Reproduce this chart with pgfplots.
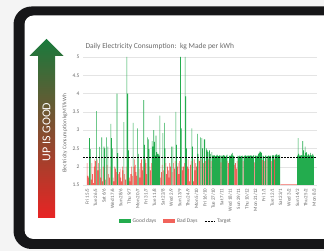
\documentclass[border=0pt]{standalone}
\usepackage{pgfplots}
\pgfplotsset{compat=1.18}
\usepackage{pgfplotstable}
\usepackage{fontspec}
\setmainfont{Carlito}
\definecolor{bgcol}{RGB}{244,244,244}
\definecolor{framecol}{RGB}{22,22,24}
\definecolor{goodgreen}{RGB}{35,172,78}
\definecolor{badred}{RGB}{238,60,50}
\definecolor{textgrey}{RGB}{105,105,105}
\definecolor{gridgrey}{RGB}{228,228,228}
\definecolor{arrowtop}{RGB}{25,122,60}
\definecolor{arrowmid}{RGB}{165,60,40}
\definecolor{arrowbot}{RGB}{232,36,36}

\pgfplotstableread[row sep=\\]{
d v\\
0 2.1\\ 1 1.75\\ 2 1.7\\ 3 2.78\\ 4 2.48\\ 5 1.65\\ 6 2.1\\ 7 1.8\\ 8 1.55\\ 9 2.0\\
10 2.2\\ 11 2.15\\ 12 3.52\\ 13 2.2\\ 14 1.9\\ 15 2.1\\ 16 2.54\\ 17 1.95\\ 18 1.7\\ 19 2.8\\
20 1.6\\ 21 2.0\\ 22 2.55\\ 23 2.5\\ 24 1.65\\ 25 2.8\\ 26 2.05\\ 27 2.55\\ 28 1.8\\ 29 1.7\\
30 2.0\\ 31 3.17\\ 32 2.78\\ 33 2.5\\ 34 1.7\\ 35 1.6\\ 36 2.0\\ 37 1.95\\ 38 1.85\\ 39 4.0\\
40 2.37\\ 41 1.8\\ 42 1.85\\ 43 1.95\\ 44 1.7\\ 45 1.6\\ 46 2.0\\ 47 1.9\\ 48 3.22\\ 49 1.8\\
50 1.65\\ 51 2.0\\ 52 5.0\\ 53 4.0\\ 54 2.45\\ 55 1.7\\ 56 1.6\\ 57 1.8\\ 58 2.0\\ 59 1.75\\
60 3.2\\ 61 2.0\\ 62 2.2\\ 63 2.05\\ 64 1.85\\ 65 1.75\\ 66 3.05\\ 67 2.35\\ 68 1.95\\ 69 1.7\\
70 2.1\\ 71 2.2\\ 72 1.9\\ 73 2.0\\ 74 3.82\\ 75 2.6\\ 76 2.2\\ 77 2.1\\ 78 1.8\\ 79 2.8\\
80 2.75\\ 81 2.48\\ 82 2.0\\ 83 1.9\\ 84 2.1\\ 85 2.7\\ 86 2.55\\ 87 3.0\\ 88 2.68\\ 89 2.3\\
90 2.85\\ 91 2.4\\ 92 2.35\\ 93 2.35\\ 94 2.3\\ 95 3.4\\ 96 1.7\\ 97 1.85\\ 98 2.05\\ 99 2.92\\
100 1.9\\ 101 3.2\\ 102 2.5\\ 103 2.1\\ 104 1.8\\ 105 2.0\\ 106 1.9\\ 107 1.7\\ 108 2.1\\ 109 2.0\\
110 2.55\\ 111 1.85\\ 112 2.55\\ 113 2.1\\ 114 1.95\\ 115 2.15\\ 116 3.5\\ 117 2.6\\ 118 2.0\\ 119 2.1\\
120 1.8\\ 121 2.15\\ 122 5.0\\ 123 3.05\\ 124 2.0\\ 125 1.9\\ 126 2.0\\ 127 2.1\\ 128 5.0\\ 129 3.92\\
130 2.5\\ 131 2.0\\ 132 2.2\\ 133 1.95\\ 134 1.6\\ 135 2.05\\ 136 2.15\\ 137 3.05\\ 138 2.55\\ 139 1.6\\
140 2.2\\ 141 1.9\\ 142 2.1\\ 143 2.0\\ 144 2.9\\ 145 2.35\\ 146 2.2\\ 147 2.15\\ 148 2.8\\ 149 2.2\\
150 2.78\\ 151 2.5\\ 152 2.1\\ 153 2.75\\ 154 2.75\\ 155 2.15\\ 156 2.5\\ 157 2.45\\ 158 2.4\\ 159 2.2\\
160 2.45\\ 161 2.35\\ 162 2.15\\ 163 2.4\\ 164 2.3\\ 165 2.3\\ 166 2.32\\ 167 2.3\\ 168 2.28\\ 169 2.3\\
170 2.33\\ 171 2.3\\ 172 2.29\\ 173 2.31\\ 174 2.3\\ 175 2.12\\ 176 2.3\\ 177 2.28\\ 178 2.32\\ 179 2.3\\
180 2.3\\ 181 2.27\\ 182 2.3\\ 183 2.33\\ 184 2.15\\ 185 2.1\\ 186 2.3\\ 187 2.29\\ 188 2.31\\ 189 2.35\\
190 2.38\\ 191 2.3\\ 192 2.28\\ 193 2.05\\ 194 2.1\\ 195 1.95\\ 196 2.15\\ 197 2.3\\ 198 2.28\\ 199 2.3\\
200 2.27\\ 201 2.3\\ 202 2.29\\ 203 2.3\\ 204 2.15\\ 205 2.28\\ 206 2.3\\ 207 2.31\\ 208 2.3\\ 209 2.28\\
210 2.3\\ 211 2.3\\ 212 2.29\\ 213 2.31\\ 214 2.3\\ 215 2.3\\ 216 2.28\\ 217 2.3\\ 218 2.32\\ 219 2.12\\
220 2.3\\ 221 2.3\\ 222 2.28\\ 223 2.3\\ 224 2.35\\ 225 2.38\\ 226 2.42\\ 227 2.4\\ 228 2.38\\ 229 2.18\\
230 2.3\\ 231 2.28\\ 232 2.15\\ 233 2.3\\ 234 2.3\\ 235 2.2\\ 236 2.29\\ 237 2.3\\ 238 2.3\\ 239 2.28\\
240 2.3\\ 241 2.15\\ 242 2.3\\ 243 2.32\\ 244 2.3\\ 245 2.2\\ 246 2.31\\ 247 2.33\\ 248 2.35\\ 249 2.3\\
250 2.32\\ 251 2.34\\ 252 2.3\\ 253 1.52\\ 254 1.52\\ 255 1.52\\ 256 1.52\\ 257 1.52\\ 258 1.52\\ 259 1.52\\
260 1.52\\ 261 1.52\\ 262 1.52\\ 263 1.52\\ 264 1.52\\ 265 1.52\\ 266 1.52\\ 267 1.52\\ 268 1.52\\ 269 1.52\\
270 1.52\\ 271 1.52\\ 272 1.52\\ 273 1.52\\ 274 1.52\\ 275 2.3\\ 276 2.78\\ 277 2.35\\ 278 2.3\\ 279 2.3\\
280 2.32\\ 281 2.3\\ 282 2.7\\ 283 2.45\\ 284 2.3\\ 285 2.55\\ 286 2.38\\ 287 2.4\\ 288 2.3\\ 289 2.35\\
290 2.33\\ 291 2.3\\ 292 2.38\\ 293 2.32\\ 294 2.3\\ 295 2.35\\ 296 2.3\\
}\dailydata

\begin{document}
\begin{tikzpicture}[x=1pt,y=1pt]
\begin{scope}
\clip (0,0) rectangle (324,251);
\fill[bgcol] (0,0) rectangle (324,251);
\fill[framecol, rounded corners=18pt] (13.5,2) rectangle (370,244.5);
\fill[white, rounded corners=9pt] (24.5,12) rectangle (360,235.5);
\shade[top color=arrowtop, middle color=arrowmid, bottom color=arrowbot]
  (38,33) -- (55,33) -- (55,195) -- (63.5,195) -- (46.5,212) -- (29.5,195) -- (38,195) -- cycle;
\node[rotate=90, text=white, font=\fontsize{12}{14}\selectfont] at (46.5,119) {UP IS GOOD};
\node[anchor=west, text=textgrey, font=\fontsize{7.5}{9}\selectfont] at (82,204)
  {Daily Electricity Consumption:\ \ kg Made per kWh};
\node[rotate=90, text=textgrey, font=\fontsize{5.5}{6.5}\selectfont] at (65,117.5)
  {Electricity Consumption kgMT/kWh};
\begin{axis}[
  at={(83pt,66pt)}, anchor=south west,
  scale only axis, width=234pt, height=128pt,
  xmin=-5.5, xmax=300.6, ymin=1.5, ymax=5,
  ytick={1.5,2,2.5,3,3.5,4,4.5,5},
  ymajorgrids, grid style={draw=gridgrey, line width=0.4pt},
  axis line style={draw=none},
  major tick length=0pt,
  xtick={0,11,...,297},
  xticklabels={Fri 15/5, Tue 26/5, Sat 6/6, Wed 17/6, Sun 28/6, Thu 9/7, Mon 20/7, Fri 31/7, Tue 11/8, Sat 22/8, Wed 2/9, Sun 13/9, Thu 24/9, Mon 5/10, Fri 16/10, Tue 27/10, Sat 7/11, Wed 18/11, Sun 29/11, Thu 10/12, Mon 21/12, Fri 1/1, Tue 12/1, Sat 23/1, Wed 3/2, Sun 14/2, Thu 25/2, Mon 8/3},
  xticklabel style={rotate=90, anchor=east, text=textgrey, font=\fontsize{5}{6}\selectfont},
  yticklabel style={text=textgrey, font=\fontsize{5.5}{6.5}\selectfont},
  /pgf/number format/assume math mode=true,
  legend style={at={(0.397,-0.285)}, anchor=center, draw=none, fill=none,
    font=\fontsize{5.5}{6.5}\selectfont, text=textgrey,
    /tikz/every even column/.append style={column sep=5pt}},
  legend columns=3,
]
\addplot[ybar, bar width=0.75, bar shift=0pt, fill=goodgreen, draw=none,
  restrict y to domain=2.25:10,
  legend image code/.code={\fill[goodgreen] (0pt,-2pt) rectangle (12pt,2.5pt);}]
  table[x=d, y=v] {\dailydata};
\addlegendentry{Good days}
\addplot[ybar, bar width=0.75, bar shift=0pt, fill=badred, fill opacity=0.8, draw=none,
  restrict y to domain=0:2.249,
  legend image code/.code={\fill[badred] (0pt,-2pt) rectangle (12pt,2.5pt);}]
  table[x=d, y=v] {\dailydata};
\addlegendentry{Bad Days}
\addplot[black, line width=0.8pt, dash pattern=on 1.8pt off 1.2pt,
  legend image code/.code={\draw[black, line width=0.8pt, dash pattern=on 1.8pt off 1.2pt] (0pt,0pt) -- (10pt,0pt);}]
  coordinates {(-5.5,2.25) (300.6,2.25)};
\addlegendentry{Target}
\end{axis}
\end{scope}
\pgfresetboundingbox
\useasboundingbox (0,0) rectangle (324,251);
\end{tikzpicture}
\end{document}
